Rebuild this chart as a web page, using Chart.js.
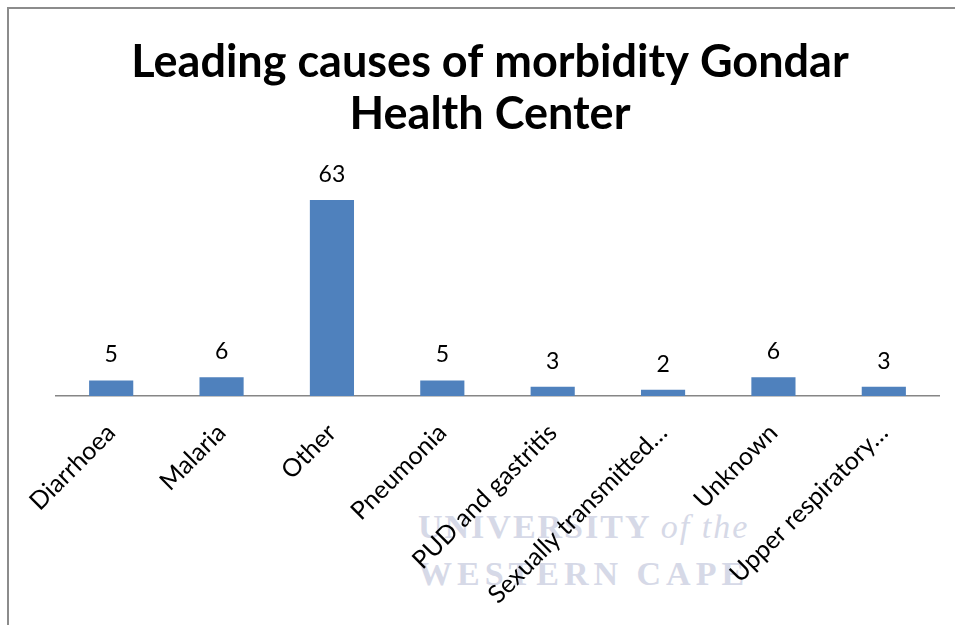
<!DOCTYPE html>
<html>
<head>
<meta charset="utf-8">
<script src="https://cdn.jsdelivr.net/npm/chart.js@4"></script>
<style>
  body { margin: 0; background: #fff; }
  #wrap { position: relative; width: 955px; height: 625px; overflow: hidden; }
  #frame {
    position: absolute; left: 7px; top: 7px; right: -4px; bottom: -4px;
    border-left: 2px solid #8c8c8c; border-top: 2px solid #8c8c8c;
  }
  .mark {
    position: absolute; left: 418px; color: #d6d9e7;
    font-family: "Liberation Serif", "DejaVu Serif", serif; font-weight: bold;
    white-space: nowrap;
  }
  .mark i { font-weight: normal; }
  #chart { position: absolute; left: 0; top: 0; }
</style>
</head>
<body>
<div id="wrap">
  <div id="frame"></div>
  <div class="mark" style="top:508px;font-size:34px;letter-spacing:2px;">UNIVERSITY <i>of the</i></div>
  <div class="mark" style="top:555px;font-size:34px;letter-spacing:5px;">WESTERN CAPE</div>
  <canvas id="chart" width="955" height="625"></canvas>
</div>
<script>
const causes = [
  "Diarrhoea",
  "Malaria",
  "Other",
  "Pneumonia",
  "PUD and gastritis",
  "Sexually transmitted…",
  "Unknown",
  "Upper respiratory…",
];
const cases = [5, 6, 63, 5, 3, 2, 6, 3];
const titleLines = ["Leading causes of morbidity Gondar", "Health Center"];

// writes each bar's value just above it
const valueLabels = {
  id: "valueLabels",
  afterDatasetsDraw(chart) {
    const ctx = chart.ctx;
    const meta = chart.getDatasetMeta(0);
    ctx.save();
    ctx.font = "23px Lato";
    ctx.fillStyle = "#000";
    ctx.textAlign = "center";
    ctx.textBaseline = "alphabetic";
    meta.data.forEach((bar, i) => {
      ctx.fillText(String(cases[i]), bar.x, bar.y - 18);
    });
    ctx.restore();
  },
};

const ctx = document.getElementById("chart").getContext("2d");
const morbidityChart = new Chart(ctx, {
  type: "bar",
  data: {
    labels: causes,
    datasets: [
      {
        label: "Cases",
        data: cases,
        backgroundColor: "#4f81bd",
        borderWidth: 0,
        barPercentage: 0.4,
        categoryPercentage: 1,
      },
    ],
  },
  options: {
    responsive: false,
    animation: false,
    layout: {
      padding: { left: 41, right: 16, top: 0, bottom: 0 },
    },
    plugins: {
      legend: { display: false },
      tooltip: { enabled: false },
      title: {
        display: true,
        text: titleLines,
        color: "#000",
        font: { family: "Lato", size: 45, weight: "bold", lineHeight: 1.17 },
        padding: { top: 36, bottom: 37 },
      },
    },
    scales: {
      x: {
        grid: { display: false },
        border: { color: "#868686", width: 1.5 },
        ticks: {
          color: "#000",
          font: { family: "Lato", size: 25 },
          minRotation: 45,
          maxRotation: 45,
          autoSkip: false,
          padding: 14,
        },
        afterFit(scale) {
          scale.height = 229;
        },
      },
      y: {
        min: 0,
        max: 70,
        grid: { display: false },
        border: { display: false },
        ticks: { display: false },
        afterFit(scale) {
          scale.width = 15;
        },
      },
    },
  },
  plugins: [valueLabels],
});
</script>
</body>
</html>
